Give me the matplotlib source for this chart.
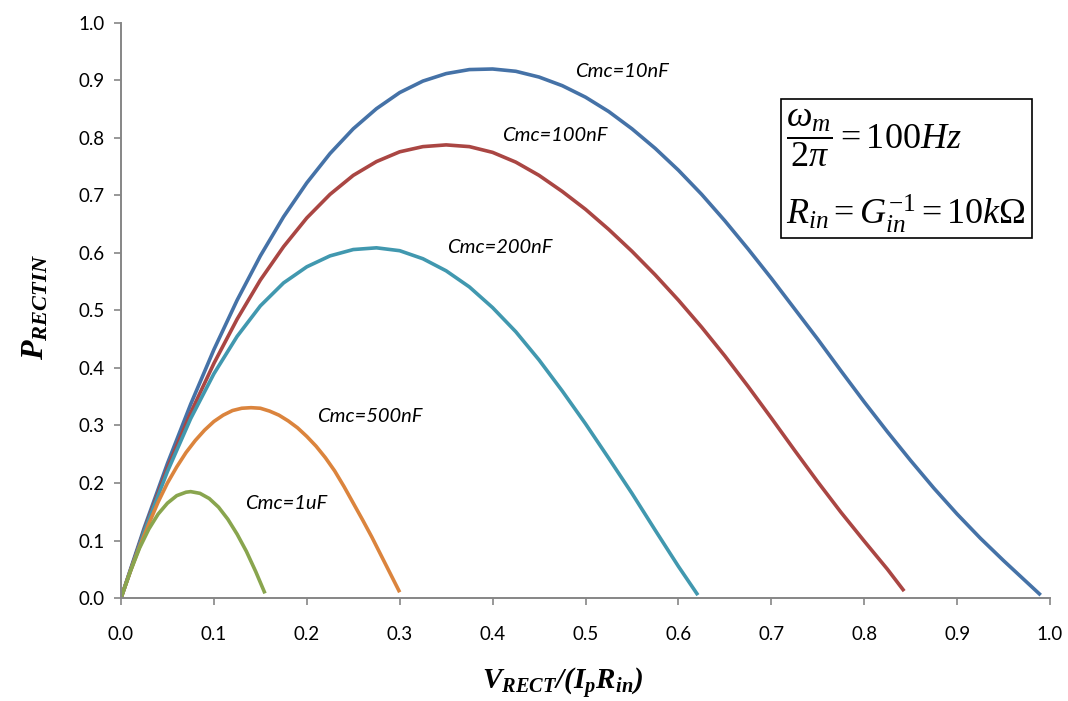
import numpy as np
import matplotlib.pyplot as plt
from matplotlib.patches import Rectangle
from matplotlib.ticker import FormatStrFormatter

plt.rcParams['font.family'] = ['Lato', 'DejaVu Sans']
plt.rcParams['mathtext.fontset'] = 'custom'
plt.rcParams['mathtext.rm'] = 'Liberation Serif'
plt.rcParams['mathtext.it'] = 'Liberation Serif:italic'
plt.rcParams['mathtext.bf'] = 'Liberation Serif:bold:italic'

# Cmc = 10nF
x_10n = [0, 0.025, 0.05, 0.075, 0.1, 0.125, 0.15, 0.175, 0.2, 0.225, 0.25, 0.275, 0.3, 0.325,
         0.35, 0.375, 0.4, 0.425, 0.45, 0.475, 0.5, 0.525, 0.55, 0.575, 0.6, 0.625, 0.65,
         0.675, 0.7, 0.725, 0.75, 0.775, 0.8, 0.825, 0.85, 0.875, 0.9, 0.925, 0.95, 0.97, 0.99]
y_10n = [0, 0.122, 0.234, 0.337, 0.432, 0.518, 0.595, 0.663, 0.722, 0.773, 0.816, 0.851, 0.879,
         0.899, 0.912, 0.919, 0.920, 0.916, 0.906, 0.891, 0.871, 0.846, 0.816, 0.782, 0.744,
         0.702, 0.656, 0.607, 0.556, 0.503, 0.450, 0.395, 0.341, 0.289, 0.239, 0.191, 0.146,
         0.104, 0.065, 0.035, 0.005]
# Cmc = 100nF
x_100n = [0, 0.025, 0.05, 0.075, 0.1, 0.125, 0.15, 0.175, 0.2, 0.225, 0.25, 0.275, 0.3, 0.325,
          0.35, 0.375, 0.4, 0.425, 0.45, 0.475, 0.5, 0.525, 0.55, 0.575, 0.6, 0.625, 0.65,
          0.675, 0.7, 0.725, 0.75, 0.775, 0.8, 0.825, 0.843]
y_100n = [0, 0.118, 0.226, 0.322, 0.408, 0.485, 0.553, 0.611, 0.661, 0.702, 0.735, 0.759, 0.776,
          0.785, 0.788, 0.785, 0.775, 0.758, 0.735, 0.707, 0.676, 0.641, 0.603, 0.562, 0.518,
          0.471, 0.421, 0.368, 0.313, 0.257, 0.202, 0.149, 0.099, 0.050, 0.012]
# Cmc = 200nF
x_200n = [0, 0.025, 0.05, 0.075, 0.1, 0.125, 0.15, 0.175, 0.2, 0.225, 0.25, 0.275, 0.3, 0.325,
          0.35, 0.375, 0.4, 0.425, 0.45, 0.475, 0.5, 0.525, 0.55, 0.575, 0.6, 0.621]
y_200n = [0, 0.116, 0.220, 0.312, 0.390, 0.455, 0.508, 0.548, 0.576, 0.595, 0.606, 0.609, 0.604,
          0.590, 0.569, 0.541, 0.505, 0.463, 0.414, 0.360, 0.303, 0.243, 0.182, 0.118, 0.055,
          0.005]
# Cmc = 500nF
x_500n = [0, 0.01, 0.02, 0.03, 0.04, 0.05, 0.06, 0.07, 0.08, 0.09, 0.10, 0.11, 0.12, 0.13, 0.14,
          0.15, 0.16, 0.17, 0.18, 0.19, 0.20, 0.21, 0.22, 0.23, 0.24, 0.25, 0.26, 0.27, 0.28,
          0.29, 0.30]
y_500n = [0, 0.046, 0.089, 0.129, 0.167, 0.200, 0.228, 0.253, 0.274, 0.292, 0.307, 0.318, 0.326,
          0.330, 0.331, 0.330, 0.325, 0.318, 0.308, 0.296, 0.281, 0.264, 0.244, 0.221, 0.194,
          0.165, 0.136, 0.106, 0.074, 0.042, 0.010]
# Cmc = 1uF
x_1u = [0, 0.01, 0.02, 0.03, 0.04, 0.05, 0.06, 0.07, 0.075, 0.085, 0.095, 0.105, 0.115, 0.125,
        0.135, 0.145, 0.155]
y_1u = [0, 0.046, 0.087, 0.120, 0.146, 0.165, 0.178, 0.184, 0.185, 0.182, 0.173, 0.158, 0.137,
        0.111, 0.081, 0.046, 0.008]

series = [(x_10n, y_10n, '#4572A7'), (x_100n, y_100n, '#AA4643'), (x_200n, y_200n, '#4198AF'),
          (x_500n, y_500n, '#DB843D'), (x_1u, y_1u, '#89A54E')]
labels = ['Cmc=10nF', 'Cmc=100nF', 'Cmc=200nF', 'Cmc=500nF', 'Cmc=1uF']
label_pos = [(0.539, 0.915), (0.467, 0.805), (0.408, 0.609), (0.268, 0.3165), (0.178, 0.165)]

fig = plt.figure(figsize=(10.68, 7.01), dpi=100)
ax = fig.add_axes([121 / 1068, 103 / 701, 929 / 1068, 575 / 701])

for xs, ys, c in series:
    ax.plot(xs, ys, color=c, lw=2.6, solid_capstyle='butt', solid_joinstyle='round')

for lab, (lx, ly) in zip(labels, label_pos):
    ax.text(lx, ly, lab, style='italic', fontsize=14.5, ha='center', va='center')

ax.set_xlim(0, 1)
ax.set_ylim(0, 1)
ax.set_xticks(np.arange(0, 1.01, 0.1))
ax.set_yticks(np.arange(0, 1.01, 0.1))
ax.xaxis.set_major_formatter(FormatStrFormatter('%.1f'))
ax.yaxis.set_major_formatter(FormatStrFormatter('%.1f'))
for s in ['top', 'right']:
    ax.spines[s].set_visible(False)
for s in ['left', 'bottom']:
    ax.spines[s].set_color('#868686')
    ax.spines[s].set_linewidth(1.4)
ax.tick_params(axis='both', direction='out', length=5, width=1.2, color='#868686',
               labelsize=13.5)
ax.tick_params(axis='x', pad=15)
ax.tick_params(axis='y', pad=7)

fig.text(563 / 1068, 1 - 683 / 701, r'$\mathbf{V_{RECT}/(I_pR_{in})}$', fontsize=21,
         ha='center', va='center')
fig.text(35 / 1068, 1 - 307 / 701, r'$\mathbf{P_{RECTIN}}$', fontsize=23,
         ha='center', va='center', rotation=90)

# parameter box
ax.add_patch(Rectangle((0.7104, 0.6261), 0.2702, 0.2417, transform=ax.transAxes,
                       fill=False, ec='black', lw=1.2))
ax.text(0.7158, 0.80, r'$\dfrac{\omega_m}{2\pi}=\mathrm{100}Hz$', transform=ax.transAxes,
        fontsize=26, ha='left', va='center')
ax.text(0.7158, 0.668, r'$R_{in}=G_{in}^{-1}=\mathrm{10}k\Omega$', transform=ax.transAxes,
        fontsize=26, ha='left', va='center')

fig.savefig('out.png', dpi=100)
